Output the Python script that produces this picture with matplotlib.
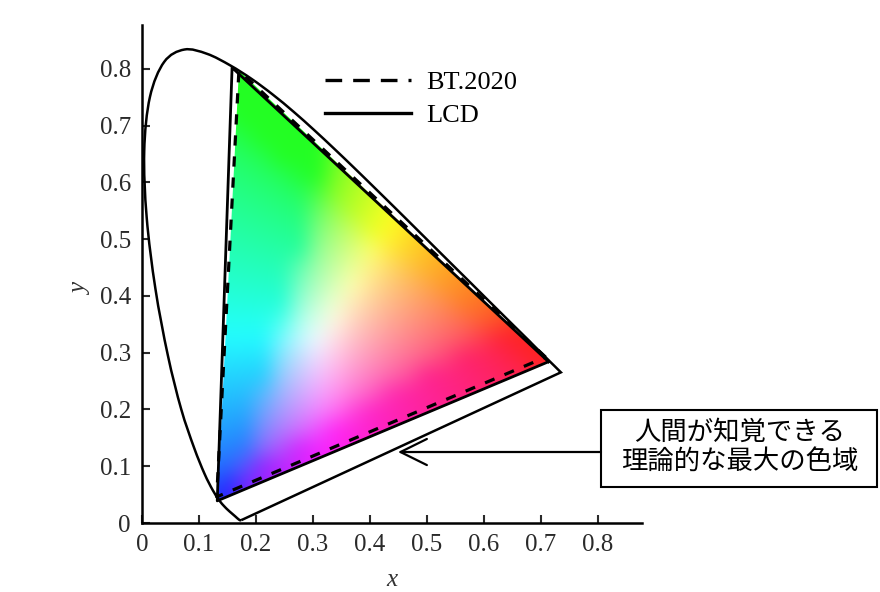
import numpy as np
import matplotlib
matplotlib.use('Agg')
import matplotlib.pyplot as plt
from matplotlib.path import Path
from matplotlib.patches import Rectangle, PathPatch, Polygon
from matplotlib.lines import Line2D

plt.rcParams['font.family'] = ['Liberation Serif', 'DejaVu Serif']

# CIE 1931 spectral locus (380-700 nm), chromaticity x, y
locus_x = [0.1741, 0.1740, 0.1738, 0.1736, 0.1733, 0.1730, 0.1726, 0.1721, 0.1714, 0.1703,
           0.1689, 0.1669, 0.1644, 0.1611, 0.1566, 0.1510, 0.1440, 0.1355, 0.1241, 0.1096,
           0.0913, 0.0687, 0.0454, 0.0235, 0.0082, 0.0039, 0.0139, 0.0389, 0.0743, 0.1142,
           0.1547, 0.1929, 0.2296, 0.2658, 0.3016, 0.3373, 0.3731, 0.4087, 0.4441, 0.4788,
           0.5125, 0.5448, 0.5752, 0.6029, 0.6270, 0.6482, 0.6658, 0.6801, 0.6915, 0.7006,
           0.7079, 0.7140, 0.7190, 0.7230, 0.7260, 0.7283, 0.7300, 0.7311, 0.7320, 0.7334,
           0.7344, 0.7347]
locus_y = [0.0050, 0.0050, 0.0049, 0.0049, 0.0048, 0.0048, 0.0048, 0.0048, 0.0051, 0.0058,
           0.0069, 0.0086, 0.0109, 0.0138, 0.0177, 0.0227, 0.0297, 0.0399, 0.0578, 0.0868,
           0.1327, 0.2007, 0.2950, 0.4127, 0.5384, 0.6548, 0.7502, 0.8120, 0.8338, 0.8262,
           0.8059, 0.7816, 0.7543, 0.7243, 0.6923, 0.6589, 0.6245, 0.5896, 0.5547, 0.5202,
           0.4866, 0.4544, 0.4242, 0.3965, 0.3725, 0.3514, 0.3340, 0.3197, 0.3083, 0.2993,
           0.2920, 0.2859, 0.2809, 0.2770, 0.2740, 0.2717, 0.2700, 0.2689, 0.2680, 0.2666,
           0.2656, 0.2653]

# primaries (R, G, B)
bt2020_x = [0.708, 0.170, 0.131]
bt2020_y = [0.292, 0.797, 0.046]
lcd_x = [0.713, 0.158, 0.132]
lcd_y = [0.284, 0.802, 0.039]

ticks = [0, 0.1, 0.2, 0.3, 0.4, 0.5, 0.6, 0.7, 0.8]
tick_labels = ['0', '0.1', '0.2', '0.3', '0.4', '0.5', '0.6', '0.7', '0.8']

legend_labels = ['BT.2020', 'LCD']
note_text = '人間が知覚できる\n理論的な最大の色域'


def xy_to_srgb(x, y):
    X = x / y
    Z = (1 - x - y) / y
    r = 3.2406 * X - 1.5372 - 0.4986 * Z
    g = -0.9689 * X + 1.8758 + 0.0415 * Z
    b = 0.0557 * X - 0.2040 + 1.0570 * Z
    rgb = np.clip(np.stack([r, g, b], axis=-1), 0, None)
    rgb = rgb / rgb.max(axis=-1, keepdims=True)
    rgb = np.where(rgb <= 0.0031308, 12.92 * rgb, 1.055 * rgb ** (1 / 2.4) - 0.055)
    rgb = 0.86 * rgb + 0.14
    return np.clip(rgb, 0, 1)


def smooth_path(xs, ys):
    # Catmull-Rom through the points, drawn as cubic Bezier segments
    p = np.column_stack([xs, ys])
    ext = np.vstack([p[0], p, p[-1]])
    verts = [p[0]]
    codes = [Path.MOVETO]
    for i in range(1, len(ext) - 2):
        p0, p1, p2, p3 = ext[i - 1], ext[i], ext[i + 1], ext[i + 2]
        verts += [p1 + (p2 - p0) / 6, p2 - (p3 - p1) / 6, p2]
        codes += [Path.CURVE4] * 3
    verts.append(p[0])
    codes.append(Path.LINETO)
    return Path(verts, codes)


fig = plt.figure(figsize=(8.8, 5.92), dpi=100)
ax = fig.add_axes([142 / 880, 69 / 592, 500 / 880, 498 / 592])

# colour fill inside the gamut
gx = np.linspace(0.10, 0.74, 20)
gy = np.linspace(0.02, 0.82, 25)
XX, YY = np.meshgrid(gx, gy)
im = ax.imshow(xy_to_srgb(XX, YY), extent=(gx[0], gx[-1], gy[0], gy[-1]), origin='lower',
               interpolation='bicubic', aspect='auto', zorder=1)
fill_poly = Polygon([(bt2020_x[1], bt2020_y[1]), (lcd_x[0], lcd_y[0]), (lcd_x[2], lcd_y[2])],
                    closed=True, transform=ax.transData, facecolor='none', edgecolor='none')
ax.add_patch(fill_poly)
im.set_clip_path(fill_poly)

# spectral locus + line of purples
ax.add_patch(PathPatch(smooth_path(locus_x, locus_y), facecolor='none', edgecolor='black',
                       lw=1.8, zorder=3))
ax.plot(bt2020_x + [bt2020_x[0]], bt2020_y + [bt2020_y[0]], color='black', lw=2.3,
        linestyle=(0, (3.2, 3.4)), zorder=4)
ax.plot(lcd_x + [lcd_x[0]], lcd_y + [lcd_y[0]], color='black', lw=2.0, zorder=4)

ax.set_xlim(0, 0.877)
ax.set_ylim(0, 0.877)
ax.set_xticks(ticks)
ax.set_xticklabels(tick_labels)
ax.set_yticks(ticks)
ax.set_yticklabels(tick_labels)
ax.tick_params(direction='in', length=6, width=1.5, labelsize=18, pad=8, colors='#2a2a2a')
for side in ['top', 'right']:
    ax.spines[side].set_visible(False)
for side in ['left', 'bottom']:
    ax.spines[side].set_linewidth(1.8)
ax.set_xlabel('x', fontsize=18, fontstyle='italic', color='#333333')
ax.set_ylabel('y', fontsize=18, fontstyle='italic', color='#333333')
ax.xaxis.set_label_coords(0.5, -0.093)
ax.yaxis.set_label_coords(-0.10, 0.47)

handles = [Line2D([], [], color='black', lw=2.4, linestyle=(0, (5, 3.3))),
           Line2D([], [], color='black', lw=2.4)]
ax.legend(handles, legend_labels, loc='upper left', bbox_to_anchor=(325 / 880, 1 - 71 / 592),
          bbox_transform=fig.transFigure, frameon=False, fontsize=19, handlelength=3.25,
          handletextpad=0.58, borderpad=0, borderaxespad=0, labelspacing=0.35)

# annotation box with arrow
fig.add_artist(Rectangle((601 / 880, 1 - 487 / 592), 276 / 880, 77 / 592,
                         transform=fig.transFigure, fill=False, lw=1.5, edgecolor='black'))
fig.text(740 / 880, 1 - 447 / 592, note_text, ha='center', va='center', fontsize=19,
         family=['Noto Sans CJK JP', 'DejaVu Sans'], linespacing=1.1)
ax.annotate('', xy=(0.449, 0.125), xycoords='data',
            xytext=(601 / 880, 1 - 452 / 592), textcoords='figure fraction',
            arrowprops=dict(arrowstyle='->,head_length=0.95,head_width=0.47',
                            color='black', lw=1.6, shrinkA=0, shrinkB=0, mutation_scale=20))

fig.savefig('out.png', dpi=100, facecolor='white')
